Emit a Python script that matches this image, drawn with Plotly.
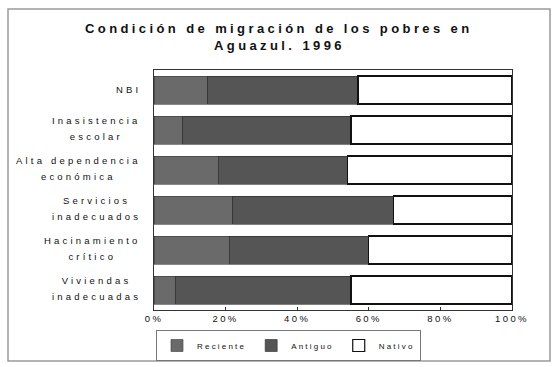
import plotly.graph_objects as go

# Share of poor households by migration status, Aguazul 1996 (percent)
categories = [
    "NBI",
    "Inasistencia<br>escolar",
    "Alta dependencia<br>económica",
    "Servicios<br>inadecuados",
    "Hacinamiento<br>crítico",
    "Viviendas<br>inadecuadas",
]
reciente = [15, 8, 18, 22, 21, 6]
antiguo = [42, 47, 36, 45, 39, 49]
nativo = [43, 45, 46, 33, 40, 45]

tick_vals = [0, 20, 40, 60, 80, 100]
tick_text = ["0%", "20%", "40%", "60%", "80%", "100%"]

title_lines = ["Condición de migración de los pobres en", "Aguazul. 1996"]

font_family = "Liberation Sans, Arial, sans-serif"
ink = "#111111"

# plot area in pixels
PL, PR, PT, PB = 154, 512, 70, 310
PW, PH = PR - PL, PB - PT


def spaced(text, px, size=None):
    """Letter-spaced span for text (optionally with its own font size)."""
    style = f"letter-spacing:{px}px"
    if size:
        style += f";font-size:{size}px"
    return f'<span style="{style}">{text}</span>'


fig = go.Figure()
fig.add_trace(go.Bar(
    y=categories, x=reciente, name=spaced("Reciente", 2.2), orientation="h",
    marker=dict(color="#6a6a6a", line=dict(color="#3a3a3a", width=0.6)),
))
fig.add_trace(go.Bar(
    y=categories, x=antiguo, name=spaced("Antiguo", 2.2), orientation="h",
    marker=dict(color="#555555", line=dict(color="#2a2a2a", width=0.6)),
))
fig.add_trace(go.Bar(
    y=categories, x=nativo, name=spaced("Nativo", 2.2), orientation="h",
    marker=dict(color="#ffffff", line=dict(color=ink, width=1.2)),
))

# Category labels: centred two-line blocks, right-aligned against the axis,
# with a taller line pitch than the glyph size
annotations = []
for cat in categories:
    lines = cat.split("<br>")
    text = "<br>".join(spaced(line, 3.2, 9.5) for line in lines)
    annotations.append(dict(
        xref="paper", x=0, xanchor="right", xshift=-11,
        yref="y", y=cat, yanchor="middle", yshift=2 if len(lines) > 1 else 1,
        text=text, align="center", showarrow=False,
        font=dict(size=12, color=ink, family=font_family),
    ))

# Two-line title
for line, ypix in zip(title_lines, [29, 46]):
    annotations.append(dict(
        xref="paper", x=(279 - PL) / PW, xanchor="center",
        yref="paper", y=(PB - ypix) / PH, yanchor="middle",
        text="<b>" + spaced(line, 3.4) + "</b>", showarrow=False,
        font=dict(size=13, color=ink, family=font_family),
    ))

# Outer frame around the whole chart
fig.add_shape(type="rect", xref="paper", yref="paper",
              x0=(8 - PL) / PW, x1=(550 - PL) / PW,
              y0=(PB - 361) / PH, y1=(PB - 9) / PH,
              line=dict(color="#9a9a9a", width=1.5), fillcolor="rgba(0,0,0,0)",
              layer="below")

fig.update_layout(
    width=553, height=367,
    margin=dict(l=PL, r=553 - PR, t=PT, b=367 - PB, autoexpand=False),
    barmode="stack",
    bargap=0.3,
    paper_bgcolor="white",
    plot_bgcolor="white",
    font=dict(family=font_family, size=8, color=ink),
    annotations=annotations,
    xaxis=dict(
        range=[0, 100], tickvals=tick_vals,
        ticktext=[spaced(t, 2.4) for t in tick_text],
        showgrid=False, zeroline=False,
        showline=True, linecolor="#333333", linewidth=1, mirror=True,
        ticks="inside", ticklen=3, tickcolor="#333333",
        tickfont=dict(size=9.5, color=ink),
    ),
    yaxis=dict(
        autorange="reversed", showgrid=False, zeroline=False,
        showline=True, linecolor="#333333", linewidth=1, mirror=True,
        ticks="", showticklabels=False,
    ),
    legend=dict(
        orientation="h", x=156 / 553, xref="container", xanchor="left",
        y=6 / 367, yref="container", yanchor="bottom",
        bordercolor="#777777", borderwidth=1,
        font=dict(size=8), itemwidth=30, traceorder="normal",
    ),
)

fig.write_html("out.html")
